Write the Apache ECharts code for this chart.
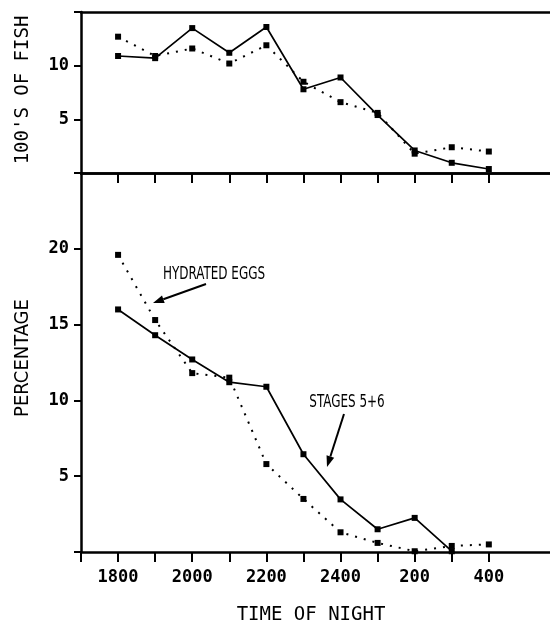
<!DOCTYPE html>
<html>
<head>
<meta charset="utf-8">
<title>Fish by time of night</title>
<script src="https://cdn.jsdelivr.net/npm/echarts@6/dist/echarts.min.js"></script>
<style>
    html, body { margin: 0; padding: 0; background: #fff; }
    #main { width: 550px; height: 626px; }
</style>
</head>
<body>
<div id="main"></div>
<script>
// sample times (one per column)
let times = ['1800', '1900', '2000', '2100', '2200', '2300', '2400', '100', '200', '300', '400'];
// only every other time is labelled on the axis
let timeLabels = ['1800', '', '2000', '', '2200', '', '2400', '', '200', '', '400'];

// top panel - 100's of fish
let fishStages = [10.9, 10.7, 13.5, 11.2, 13.6, 7.8, 8.9, 5.4, 2.1, 0.95, 0.37];
let fishHydrated = [12.7, 10.9, 11.6, 10.2, 11.9, 8.5, 6.6, 5.6, 1.8, 2.4, 2.0];

// bottom panel - percentage
let pctStages = [16.0, 14.3, 12.7, 11.2, 10.9, 6.45, 3.47, 1.5, 2.25, 0.05];
let pctHydrated = [19.6, 15.3, 11.8, 11.5, 5.8, 3.5, 1.3, 0.6, 0.05, 0.4, 0.5];

let topTicks = [5, 10];
let bottomTicks = [5, 10, 15, 20];

let mono = '"DejaVu Sans Mono", monospace';
let narrow = '"Liberation Sans Narrow", "DejaVu Sans Condensed", sans-serif';

// index -> [index, value] so the value axis places them
function pairs(arr) {
    return arr.map(function (v, i) { return [i, v]; });
}

// tick positions: one before the first sample, then one per sample
let tickPos = [-1].concat(times.map(function (t, i) { return i; }));
let labelPos = times.map(function (t, i) { return i; }).filter(function (i) { return timeLabels[i]; });

// small filled arrow head at the tip end
function arrow(x1, y1, x2, y2) {
    let ang = Math.atan2(y2 - y1, x2 - x1);
    let len = 11, half = 4;
    let bx = x2 - len * Math.cos(ang), by = y2 - len * Math.sin(ang);
    let px = -Math.sin(ang) * half, py = Math.cos(ang) * half;
    return [
        { type: 'line', shape: { x1: x1, y1: y1, x2: bx, y2: by }, style: { stroke: '#000', lineWidth: 2 } },
        { type: 'polygon', shape: { points: [[x2, y2], [bx + px, by + py], [bx - px, by - py]] }, style: { fill: '#000' } }
    ];
}

// tall, squeezed annotation text like the plotter lettering
function note(text, cx, cy) {
    return {
        type: 'text', x: cx, y: cy, scaleX: 0.74,
        style: { text: text, font: '18px ' + narrow, fill: '#000', align: 'center', verticalAlign: 'middle' }
    };
}

let myChart = echarts.init(document.getElementById('main'));

// the frame runs off the right edge of the picture
let frame = { show: true, onZero: false, lineStyle: { color: '#000', width: 2.5 } };
let xBase = { type: 'value', min: -1, max: 11.65, interval: 1, splitLine: { show: false }, axisLabel: { show: false }, axisTick: { show: false }, axisLine: frame };

function line(xi, yi, data, dotted) {
    return {
        type: 'line',
        xAxisIndex: xi,
        yAxisIndex: yi,
        data: pairs(data),
        symbol: 'rect',
        symbolSize: 6,
        itemStyle: { color: '#000' },
        lineStyle: { color: '#000', width: dotted ? 2 : 1.7, type: dotted ? [2, 7] : 'solid' },
        animation: false
    };
}

let option = {
    backgroundColor: '#fff',
    grid: [
        { left: 81, top: 12, right: 0, height: 161 },
        { left: 81, top: 173, right: 0, height: 379 }
    ],
    xAxis: [
        Object.assign({}, xBase, { gridIndex: 0, position: 'bottom' }),
        Object.assign({}, xBase, { gridIndex: 0, position: 'top' }),
        Object.assign({}, xBase, {
            gridIndex: 1, position: 'top',
            axisTick: { show: true, inside: true, length: 10, customValues: tickPos.slice(1), lineStyle: { color: '#000', width: 2 } }
        }),
        Object.assign({}, xBase, {
            gridIndex: 1, position: 'bottom',
            axisTick: { show: true, length: 10, customValues: tickPos, lineStyle: { color: '#000', width: 2 } },
            axisLabel: {
                show: true, margin: 17, color: '#000', fontFamily: mono, fontSize: 17, fontWeight: 'bold',
                customValues: labelPos,
                formatter: function (v) { return timeLabels[v] || ''; }
            }
        })
    ],
    yAxis: [
        {
            type: 'value', gridIndex: 0, min: 0, max: 15, interval: 5,
            splitLine: { show: false }, axisLine: frame,
            axisTick: { show: true, length: 7, lineStyle: { color: '#000', width: 2 } },
            axisLabel: {
                margin: 12, color: '#000', fontFamily: mono, fontSize: 17, fontWeight: 'bold',
                formatter: function (v) { return topTicks.includes(v) ? String(v) : ''; }
            }
        },
        {
            type: 'value', gridIndex: 1, min: 0, max: 25, interval: 5,
            splitLine: { show: false }, axisLine: frame,
            axisTick: { show: true, length: 7, lineStyle: { color: '#000', width: 2 } },
            axisLabel: {
                margin: 12, color: '#000', fontFamily: mono, fontSize: 17, fontWeight: 'bold',
                formatter: function (v) { return bottomTicks.includes(v) ? String(v) : ''; }
            }
        }
    ],
    series: [
        line(0, 0, fishStages, false),
        line(0, 0, fishHydrated, true),
        line(3, 1, pctStages, false),
        line(3, 1, pctHydrated, true)
    ],
    graphic: [
        { type: 'text', x: 23, y: 90, rotation: Math.PI / 2, style: { text: "100'S OF FISH", font: '19px ' + mono, fill: '#000', align: 'center', verticalAlign: 'middle' } },
        { type: 'text', x: 23, y: 358, rotation: Math.PI / 2, style: { text: 'PERCENTAGE', font: '20px ' + narrow, fill: '#000', align: 'center', verticalAlign: 'middle' } },
        { type: 'text', x: 311, y: 615, style: { text: 'TIME OF NIGHT', font: '19px ' + mono, fill: '#000', align: 'center', verticalAlign: 'middle' } },
        note('HYDRATED EGGS', 214, 274),
        note('STAGES 5+6', 347, 402)
    ].concat(arrow(206, 284, 153, 303), arrow(344, 414, 327, 467))
};

myChart.setOption(option);
</script>
</body>
</html>
